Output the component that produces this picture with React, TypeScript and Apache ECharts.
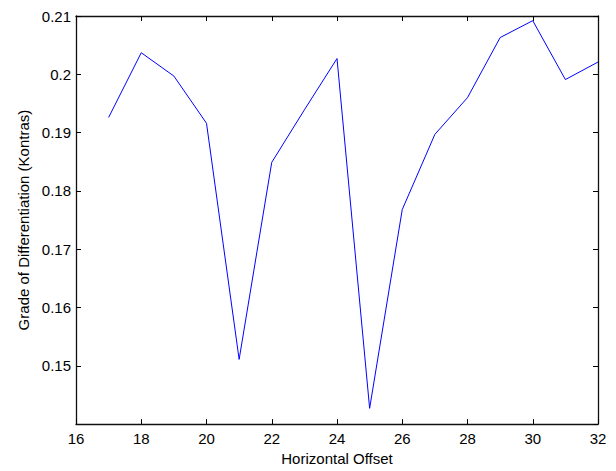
import React, { useEffect, useRef } from "react";
import * as echarts from "echarts";

const offsets = [17, 18, 19, 20, 21, 22, 23, 24, 25, 26, 27, 28, 29, 30, 31, 32];
const contrast = [
  0.1926, 0.2037, 0.1997, 0.1916, 0.1511, 0.1849, 0.1939, 0.2027,
  0.1427, 0.1768, 0.1897, 0.196, 0.2063, 0.2092, 0.1991, 0.2021,
];
const xTicks = [16, 18, 20, 22, 24, 26, 28, 30, 32];
const yTicks = [0.15, 0.16, 0.17, 0.18, 0.19, 0.2, 0.21];

export default function App() {
  const ref = useRef<HTMLDivElement>(null);
  useEffect(() => {
    if (!ref.current) return;
    const chart = echarts.init(ref.current, undefined, { renderer: "svg" });
    const font = "Liberation Sans, Arial, Helvetica, sans-serif";
    const tick = { show: true, inside: true, length: 5, lineStyle: { color: "#000", width: 1 } };
    const line = { show: true, onZero: false, lineStyle: { color: "#111", width: 1.3 } };
    chart.setOption({
      animation: false,
      backgroundColor: "#fff",
      grid: { left: 76, top: 16, right: 18, bottom: 44, containLabel: false },
      xAxis: [
        {
          type: "value",
          min: 16,
          max: 32,
          interval: 2,
          axisLine: line,
          axisTick: tick,
          splitLine: { show: false },
          axisLabel: {
            color: "#000",
            fontSize: 15,
            fontFamily: font,
            margin: 7,
            formatter: (v: number) => (xTicks.includes(v) ? String(v) : ""),
          },
          name: "Horizontal Offset",
          nameLocation: "middle",
          nameGap: 25,
          nameTextStyle: { color: "#000", fontSize: 15, fontFamily: font },
        },
        {
          type: "value",
          position: "top",
          min: 16,
          max: 32,
          interval: 2,
          axisLine: line,
          axisTick: tick,
          axisLabel: { show: false },
          splitLine: { show: false },
        },
      ],
      yAxis: [
        {
          type: "value",
          min: 0.14,
          max: 0.21,
          interval: 0.01,
          axisLine: line,
          axisTick: tick,
          splitLine: { show: false },
          axisLabel: {
            color: "#000",
            fontSize: 15,
            fontFamily: font,
            margin: 5,
            showMinLabel: false,
            formatter: (v: number) => {
              const r = Math.round(v * 100) / 100;
              return yTicks.includes(r) ? String(r) : "";
            },
          },
          name: "Grade of Differentiation (Kontras)",
          nameLocation: "middle",
          nameGap: 44,
          nameTextStyle: { color: "#000", fontSize: 15, fontFamily: font },
        },
        {
          type: "value",
          position: "right",
          min: 0.14,
          max: 0.21,
          interval: 0.01,
          axisLine: line,
          axisTick: tick,
          axisLabel: { show: false },
          splitLine: { show: false },
        },
      ],
      series: [
        {
          type: "line",
          data: offsets.map((x, i) => [x, contrast[i]]),
          showSymbol: false,
          symbol: "none",
          lineStyle: { color: "#0000ff", width: 1 },
          xAxisIndex: 0,
          yAxisIndex: 0,
        },
      ],
    });
    return () => chart.dispose();
  }, []);
  return (
    <div
      ref={ref}
      style={{ position: "absolute", left: 0, top: 0, width: 616, height: 471 }}
    />
  );
}
